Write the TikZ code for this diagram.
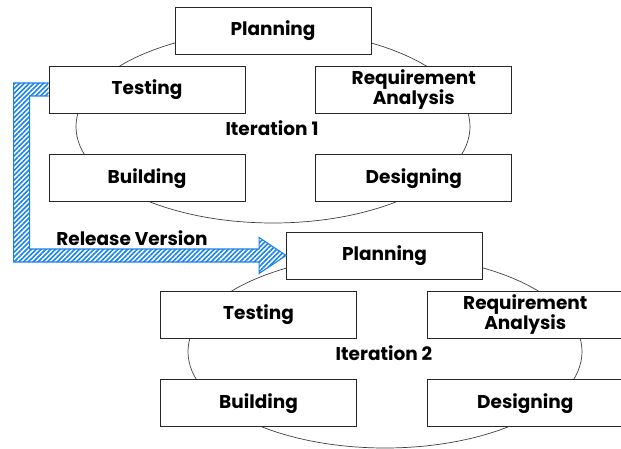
\documentclass[tikz,border=0pt]{standalone}
\usepackage{fontspec}
\setmainfont{Poppins}
\usetikzlibrary{positioning,calc,patterns.meta}

\definecolor{relblue}{RGB}{25,130,235}

\tikzset{
  phase/.style={draw=black!85,line width=0.8pt,fill=white,minimum width=196pt,
    minimum height=47pt,inner sep=0pt,align=center,font=\bfseries\fontsize{18.5}{20.5}\selectfont},
  cycle/.style={draw=black!75,line width=0.7pt},
  itlabel/.style={font=\bfseries\fontsize{18.5}{20}\selectfont},
  relarrow/.style={draw=relblue,line width=1.1pt,line join=miter,
    pattern={Lines[angle=45,distance=3.4pt,line width=1.6pt]},pattern color=relblue}
}

\begin{document}
\begin{tikzpicture}[x=1pt,y=-1pt]

  \useasboundingbox (0,0) rectangle (621,449);

  % Cycles

  \draw[cycle] (273,126.6) ellipse [x radius=197,y radius=96.4];
  \draw[cycle] (385,351.6) ellipse [x radius=197,y radius=96.4];

  % Nodes, iteration 1

  \node[phase] (plan1) at (273,30.5) {Planning};
  \node[phase] (test1) at (147,89.5) {Testing};
  \node[phase,right=70pt of test1] (req1) {Requirement\\Analysis};
  \node[phase,below=41pt of test1] (build1) {Building};
  \node[phase,below=41pt of req1] (design1) {Designing};
  \node[itlabel] (it1) at (272,128) {Iteration 1};

  % Nodes, iteration 2

  \node[phase] (plan2) at (384.5,255.5) {Planning};
  \node[phase] (test2) at (258.5,314.5) {Testing};
  \node[phase,right=70pt of test2] (req2) {Requirement\\Analysis};
  \node[phase,below=41pt of test2] (build2) {Building};
  \node[phase,below=41pt of req2] (design2) {Designing};
  \node[itlabel] (it2) at (384,353) {Iteration 2};

  % Release arrow

  \draw[relarrow]
    ($(test1.west)+(0,-6.5)$) -- ++(-35,0) |- ($(plan2.west)+(-27,6.5)$)
    -- ++(0,11.5) -- (plan2.west) -- ($(plan2.west)+(-27,-18)$)
    -- ++(0,11.5) -| ($(test1.west)+(-19,6.5)$) -- ($(test1.west)+(0,6.5)$);
  \node[itlabel] (rel) at (132,238) {Release Version};

\end{tikzpicture}
\end{document}
